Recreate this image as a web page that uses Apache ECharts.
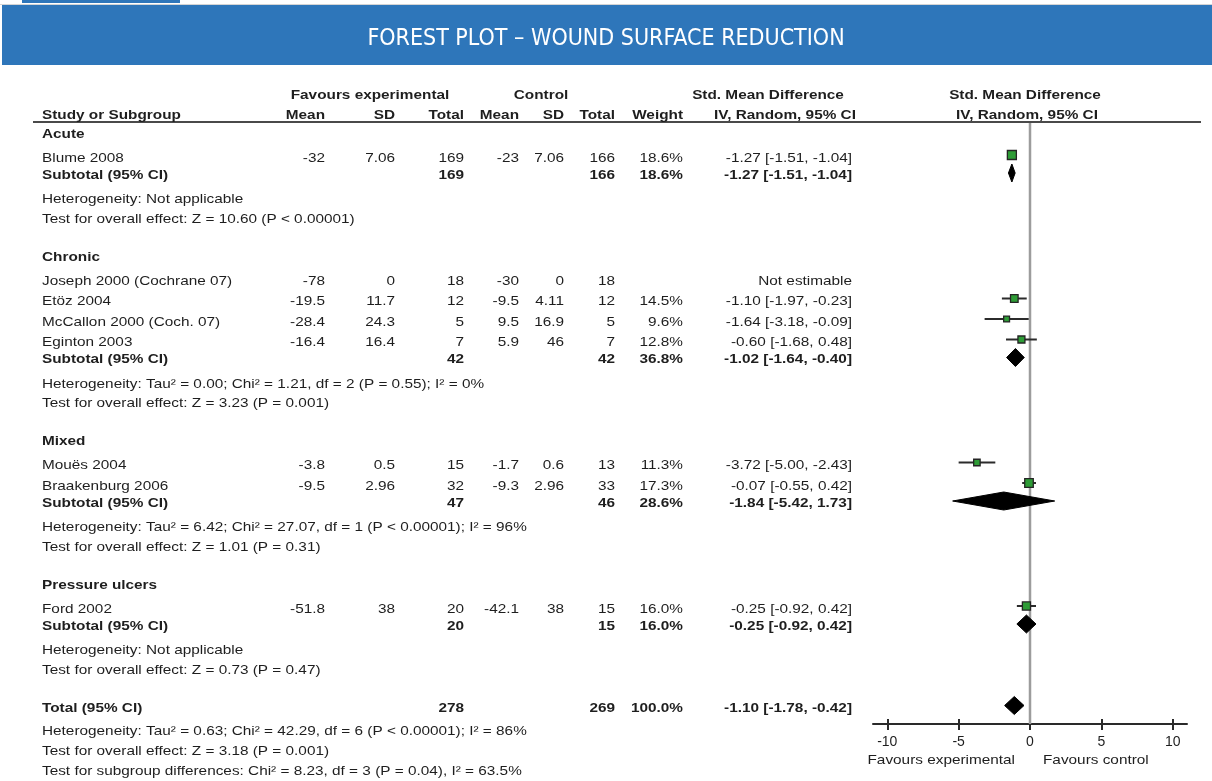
<!DOCTYPE html>
<html>
<head>
<meta charset="utf-8">
<script src="https://cdn.jsdelivr.net/npm/echarts@6/dist/echarts.min.js"></script>
<style>
  html, body { margin: 0; padding: 0; background: #ffffff; }
  #chart { width: 1212px; height: 781px; }
</style>
</head>
<body>
<div id="chart"></div>
<script>
// ---- Data: wound surface reduction, standardised mean difference ----
const groups = ['Acute', 'Chronic', 'Mixed', 'Pressure ulcers'];
const studyNames = ['Blume 2008', 'Joseph 2000 (Cochrane 07)', 'Etöz 2004', 'McCallon 2000 (Coch. 07)',
  'Eginton 2003', 'Mouës 2004', 'Braakenburg 2006', 'Ford 2002'];
const studyGroup = [0, 1, 1, 1, 1, 2, 2, 3];
const expMean = [-32, -78, -19.5, -28.4, -16.4, -3.8, -9.5, -51.8];
const expSD = [7.06, 0, 11.7, 24.3, 16.4, 0.5, 2.96, 38];
const expN = [169, 18, 12, 5, 7, 15, 32, 20];
const ctlMean = [-23, -30, -9.5, 9.5, 5.9, -1.7, -9.3, -42.1];
const ctlSD = [7.06, 0, 4.11, 16.9, 46, 0.6, 2.96, 38];
const ctlN = [166, 18, 12, 5, 7, 13, 33, 15];
const studyWeight = [18.6, null, 14.5, 9.6, 12.8, 11.3, 17.3, 16.0];
const studySmd = [-1.27, null, -1.10, -1.64, -0.60, -3.72, -0.07, -0.25];
const studyLo = [-1.51, null, -1.97, -3.18, -1.68, -5.00, -0.55, -0.92];
const studyHi = [-1.04, null, -0.23, -0.09, 0.48, -2.43, 0.42, 0.42];

const subExpN = [169, 42, 47, 20];
const subCtlN = [166, 42, 46, 15];
const subWeight = [18.6, 36.8, 28.6, 16.0];
const subSmd = [-1.27, -1.02, -1.84, -0.25];
const subLo = [-1.51, -1.64, -5.42, -0.92];
const subHi = [-1.04, -0.40, 1.73, 0.42];
const subHeterogeneity = [
  'Heterogeneity: Not applicable',
  'Heterogeneity: Tau² = 0.00; Chi² = 1.21, df = 2 (P = 0.55); I² = 0%',
  'Heterogeneity: Tau² = 6.42; Chi² = 27.07, df = 1 (P < 0.00001); I² = 96%',
  'Heterogeneity: Not applicable'
];
const subOverall = [
  'Test for overall effect: Z = 10.60 (P < 0.00001)',
  'Test for overall effect: Z = 3.23 (P = 0.001)',
  'Test for overall effect: Z = 1.01 (P = 0.31)',
  'Test for overall effect: Z = 0.73 (P = 0.47)'
];

const totalExpN = 278;
const totalCtlN = 269;
const totalWeight = 100.0;
const totalSmd = -1.10;
const totalLo = -1.78;
const totalHi = -0.42;
const totalNotes = [
  'Heterogeneity: Tau² = 0.63; Chi² = 42.29, df = 6 (P < 0.00001); I² = 86%',
  'Test for overall effect: Z = 3.18 (P = 0.001)',
  'Test for subgroup differences: Chi² = 8.23, df = 3 (P = 0.04), I² = 63.5%'
];

const axisTicks = [-10, -5, 0, 5, 10];

// ---- Layout ----
const W = 1212, H = 781;
const FONT = "'Liberation Sans', Arial, Helvetica, sans-serif";
const TEXT = '#1e1e1e';
const TEXT_STRETCH = 1.18;   // table type is set wide
const col = { study: 42, expMean: 325, expSD: 395, expN: 464, ctlMean: 519, ctlSD: 564,
  ctlN: 615, weight: 683, ci: 852 };
const gap = { groupToStudy: 24, studyToStudy: 20.5, studyToSub: 17, subToHet: 24.5, hetToTest: 19.5,
  testToGroup: 38, testToTotal: 38.5, totalToHet: 23 };
const ruleY = 122, axisY = 724;
const plotLeft = 873, plotRight = 1187;
const squareShift = 3, diamondShift = 2;

const fmtCI = (m, lo, hi) => m.toFixed(2) + ' [' + lo.toFixed(2) + ', ' + hi.toFixed(2) + ']';
const fmtW = w => w.toFixed(1) + '%';

const cells = [];
function cell(x, y, text, align, bold) { cells.push({ x, y, text, align, bold }); }
const studyMarks = [];
const diamondMarks = [];

// column headings
cell(370, 95, 'Favours experimental', 'center', true);
cell(541, 95, 'Control', 'center', true);
cell(768, 95, 'Std. Mean Difference', 'center', true);
cell(1025, 95, 'Std. Mean Difference', 'center', true);
cell(col.study, 115, 'Study or Subgroup', 'left', true);
cell(col.expMean, 115, 'Mean', 'right', true);
cell(col.expSD, 115, 'SD', 'right', true);
cell(col.expN, 115, 'Total', 'right', true);
cell(col.ctlMean, 115, 'Mean', 'right', true);
cell(col.ctlSD, 115, 'SD', 'right', true);
cell(col.ctlN, 115, 'Total', 'right', true);
cell(col.weight, 115, 'Weight', 'right', true);
cell(785, 115, 'IV, Random, 95% CI', 'center', true);
cell(1027, 115, 'IV, Random, 95% CI', 'center', true);

let y = 134;
groups.forEach((g, gi) => {
  if (gi > 0) y += gap.testToGroup;
  cell(col.study, y, g, 'left', true);
  const members = studyGroup.map((v, i) => v === gi ? i : -1).filter(i => i >= 0);
  members.forEach((si, k) => {
    y += k === 0 ? gap.groupToStudy : gap.studyToStudy;
    cell(col.study, y, studyNames[si], 'left', false);
    cell(col.expMean, y, String(expMean[si]), 'right', false);
    cell(col.expSD, y, String(expSD[si]), 'right', false);
    cell(col.expN, y, String(expN[si]), 'right', false);
    cell(col.ctlMean, y, String(ctlMean[si]), 'right', false);
    cell(col.ctlSD, y, String(ctlSD[si]), 'right', false);
    cell(col.ctlN, y, String(ctlN[si]), 'right', false);
    if (studySmd[si] === null) {
      cell(col.ci, y, 'Not estimable', 'right', false);
    } else {
      cell(col.weight, y, fmtW(studyWeight[si]), 'right', false);
      cell(col.ci, y, fmtCI(studySmd[si], studyLo[si], studyHi[si]), 'right', false);
      studyMarks.push([studySmd[si], y - squareShift, studyLo[si], studyHi[si], studyWeight[si]]);
    }
  });
  y += gap.studyToSub;
  cell(col.study, y, 'Subtotal (95% CI)', 'left', true);
  cell(col.expN, y, String(subExpN[gi]), 'right', true);
  cell(col.ctlN, y, String(subCtlN[gi]), 'right', true);
  cell(col.weight, y, fmtW(subWeight[gi]), 'right', true);
  cell(col.ci, y, fmtCI(subSmd[gi], subLo[gi], subHi[gi]), 'right', true);
  diamondMarks.push([subSmd[gi], y - diamondShift, subLo[gi], subHi[gi]]);
  y += gap.subToHet;
  cell(col.study, y, subHeterogeneity[gi], 'left', false);
  y += gap.hetToTest;
  cell(col.study, y, subOverall[gi], 'left', false);
});

y += gap.testToTotal;
cell(col.study, y, 'Total (95% CI)', 'left', true);
cell(col.expN, y, String(totalExpN), 'right', true);
cell(col.ctlN, y, String(totalCtlN), 'right', true);
cell(col.weight, y, fmtW(totalWeight), 'right', true);
cell(col.ci, y, fmtCI(totalSmd, totalLo, totalHi), 'right', true);
diamondMarks.push([totalSmd, y - diamondShift - 1, totalLo, totalHi]);
y += gap.totalToHet;
totalNotes.forEach((t, i) => {
  if (i > 0) y += (i === 1 ? 19.5 : 20.5);
  cell(col.study, y, t, 'left', false);
});

// captions under the effect axis
cell(1015, 760, 'Favours experimental', 'right', false);
cell(1043, 760, 'Favours control', 'left', false);

// ---- Chart ----
const chart = echarts.init(document.getElementById('chart'), null, { renderer: 'canvas' });

const hiddenValueAxis = (min, max, extra) => Object.assign({
  type: 'value', min, max, show: false, splitLine: { show: false }
}, extra || {});

chart.setOption({
  animation: false,
  backgroundColor: '#ffffff',
  title: {
    text: 'FOREST PLOT – WOUND SURFACE REDUCTION',
    left: 'center',
    top: 21,
    textStyle: {
      color: '#ffffff', fontSize: 23, lineHeight: 26, fontWeight: 'normal',
      fontFamily: "'Liberation Sans Narrow', 'DejaVu Sans Condensed', 'Roboto Condensed', sans-serif"
    }
  },
  graphic: [
    { type: 'rect', z: -1, shape: { x: 0, y: 4, width: W, height: 1 }, style: { fill: '#d4d4d4' } },
    { type: 'rect', z: -1, shape: { x: 2, y: 5, width: W - 2, height: 60 }, style: { fill: '#2e76ba' } },
    { type: 'rect', z: -1, shape: { x: 22, y: 0, width: 158, height: 3 }, style: { fill: '#2e76ba' } }
  ],
  grid: [
    { left: 0, top: 0, width: W, height: H, containLabel: false, outerBoundsMode: 'none' },
    { left: plotLeft, top: ruleY, width: plotRight - plotLeft, height: axisY - ruleY,
      containLabel: false, outerBoundsMode: 'none' },
    { left: plotLeft, top: ruleY, width: plotRight - plotLeft, height: axisY - ruleY,
      containLabel: false, outerBoundsMode: 'none' }
  ],
  xAxis: [
    hiddenValueAxis(0, W, { gridIndex: 0 }),
    {
      gridIndex: 1, type: 'value', min: -11, max: 11, position: 'bottom',
      axisLine: { show: true, lineStyle: { color: '#2a2a2a', width: 2 } },
      axisTick: { show: true, inside: false, length: 6, customValues: axisTicks,
        lineStyle: { color: '#2a2a2a', width: 2 } },
      axisLabel: { show: true, customValues: axisTicks, margin: 11, color: TEXT,
        fontFamily: FONT, fontSize: 14 },
      splitLine: { show: false }
    },
    {
      gridIndex: 2, type: 'value', min: -11, max: 11, position: 'bottom',
      axisLine: { show: false },
      axisTick: { show: true, inside: true, length: 5, customValues: axisTicks,
        lineStyle: { color: '#2a2a2a', width: 2 } },
      axisLabel: { show: false },
      splitLine: { show: false }
    }
  ],
  yAxis: [
    hiddenValueAxis(0, H, { gridIndex: 0, inverse: true }),
    hiddenValueAxis(ruleY, axisY, { gridIndex: 1, inverse: true }),
    hiddenValueAxis(ruleY, axisY, { gridIndex: 2, inverse: true })
  ],
  series: [
    // heading rule
    {
      type: 'line', xAxisIndex: 0, yAxisIndex: 0, silent: true, symbol: 'none', z: 2,
      data: [[33, ruleY], [1201, ruleY]],
      lineStyle: { color: '#4a4a4a', width: 2 }
    },
    // line of no effect
    {
      type: 'line', xAxisIndex: 1, yAxisIndex: 1, silent: true, symbol: 'none', z: 1,
      data: [[0, ruleY], [0, axisY]],
      lineStyle: { color: '#9c9c9c', width: 2.5 }
    },
    // table text
    {
      type: 'custom', xAxisIndex: 0, yAxisIndex: 0, silent: true, z: 3,
      data: cells.map(c => [c.x, c.y]),
      renderItem: (params, api) => {
        const c = cells[params.dataIndex];
        const p = api.coord([api.value(0), api.value(1)]);
        return {
          type: 'text', x: p[0], y: p[1], scaleX: TEXT_STRETCH,
          style: {
            text: c.text, fill: TEXT, align: c.align, verticalAlign: 'middle',
            font: (c.bold ? 'bold ' : '') + '13px ' + FONT
          }
        };
      }
    },
    // individual studies: CI whisker and weighted square
    {
      type: 'custom', xAxisIndex: 1, yAxisIndex: 1, silent: true, z: 4, clip: false,
      encode: { x: [0, 2, 3], y: 1 },
      data: studyMarks,
      renderItem: (params, api) => {
        const m = api.value(0), yy = api.value(1), lo = api.value(2), hi = api.value(3), w = api.value(4);
        const c = api.coord([m, yy]);
        const l = api.coord([lo, yy]);
        const h = api.coord([hi, yy]);
        const s = 2.5 + w * 0.35;
        return {
          type: 'group', children: [
            { type: 'line', shape: { x1: l[0], y1: l[1], x2: h[0], y2: h[1] },
              style: { stroke: '#2b2b2b', lineWidth: 2 } },
            { type: 'rect', shape: { x: c[0] - s / 2, y: c[1] - s / 2, width: s, height: s },
              style: { fill: '#2e9c36', stroke: '#242424', lineWidth: 1.3 } }
          ]
        };
      }
    },
    // pooled estimates: diamonds
    {
      type: 'custom', xAxisIndex: 1, yAxisIndex: 1, silent: true, z: 5, clip: false,
      encode: { x: [0, 2, 3], y: 1 },
      data: diamondMarks,
      renderItem: (params, api) => {
        const m = api.value(0), yy = api.value(1), lo = api.value(2), hi = api.value(3);
        const c = api.coord([m, yy]);
        const l = api.coord([lo, yy]);
        const h = api.coord([hi, yy]);
        const half = 9;
        return {
          type: 'polygon',
          shape: { points: [[l[0], l[1]], [c[0], c[1] - half], [h[0], h[1]], [c[0], c[1] + half]] },
          style: { fill: '#000000', stroke: '#000000', lineWidth: 1 }
        };
      }
    }
  ]
});
</script>
</body>
</html>
